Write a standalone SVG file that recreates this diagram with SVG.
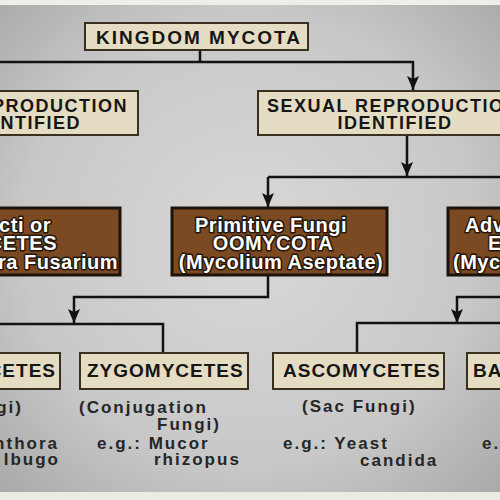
<svg xmlns="http://www.w3.org/2000/svg" width="500" height="500" viewBox="0 0 500 500">
<defs>
<radialGradient id="bg" cx="50%" cy="48%" r="75%">
<stop offset="0" stop-color="#d8d8d8"/>
<stop offset="0.6" stop-color="#c8c8c8"/>
<stop offset="1" stop-color="#a4a4a4"/>
</radialGradient>
<marker id="arr" markerUnits="userSpaceOnUse" markerWidth="14" markerHeight="12" refX="14" refY="6" orient="auto" viewBox="0 0 14 12">
<path d="M0,0 L14,6 L0,12 L3,6 Z" fill="#111"/>
</marker>
<style>
.tan{fill:#e5ddc3;stroke:#3a3020;stroke-width:2}
.brown{fill:#7c4a22;stroke:#1c130b;stroke-width:3}
.tt{font-family:"Liberation Sans",Arial,sans-serif;font-weight:bold;fill:#161616;letter-spacing:1.5px}
.bt{font-family:"Liberation Sans",Arial,sans-serif;font-weight:bold;font-size:20px;fill:#fff;stroke:#24160c;stroke-width:3;paint-order:stroke;stroke-linejoin:round;letter-spacing:0.5px}
.lt{font-family:"Liberation Sans",Arial,sans-serif;font-weight:bold;font-size:17px;fill:#262626;letter-spacing:2px}
.ln{fill:none;stroke:#121212;stroke-width:2.5}
</style>
</defs>
<rect width="500" height="500" fill="url(#bg)"/>
<rect y="0" width="500" height="5" fill="#eeeeea"/>
<rect y="492" width="500" height="8" fill="#ebebe5"/>

<g id="connectors">
<path class="ln" d="M200,50 V62"/>
<path class="ln" d="M0,62 H413 V90" marker-end="url(#arr)"/>
<path class="ln" d="M407,135 V176" marker-end="url(#arr)"/>
<path class="ln" d="M268,177 H500"/>
<path class="ln" d="M268,177 V207" marker-end="url(#arr)"/>
<path class="ln" d="M268,275 V297 H74 V323" marker-end="url(#arr)"/>
<path class="ln" d="M0,324 H163 V353"/>
<path class="ln" d="M500,297 H457 V323" marker-end="url(#arr)"/>
<path class="ln" d="M357,353 V323 H500"/>
</g>

<g id="kingdom">
<rect class="tan" x="85" y="23" width="223" height="27"/>
<text class="tt" x="199" y="44" font-size="19" text-anchor="middle" style="letter-spacing:2px">KINGDOM MYCOTA</text>
</g>

<g id="no-sexual">
<rect class="tan" x="-10" y="91" width="148" height="44"/>
<text class="tt" x="128" y="112" font-size="18" text-anchor="end">PRODUCTION</text>
<text class="tt" x="81" y="129" font-size="18" text-anchor="end">NTIFIED</text>
</g>

<g id="sexual">
<rect class="tan" x="258" y="91" width="260" height="44"/>
<text class="tt" x="393" y="112" font-size="18" text-anchor="middle">SEXUAL REPRODUCTION</text>
<text class="tt" x="395" y="129" font-size="18" text-anchor="middle">IDENTIFIED</text>
</g>

<g id="imperfecti">
<rect class="brown" x="-10" y="208" width="130" height="67"/>
<text class="bt" x="51" y="232" text-anchor="end">cti or</text>
<text class="bt" x="57" y="250" text-anchor="end">CETES</text>
<text class="bt" x="118" y="269" text-anchor="end">ra Fusarium</text>
</g>

<g id="oomycota">
<rect class="brown" x="172" y="208" width="215" height="67"/>
<text class="bt" x="271" y="232" text-anchor="middle">Primitive Fungi</text>
<text class="bt" x="273" y="250" text-anchor="middle">OOMYCOTA</text>
<text class="bt" x="281" y="269" text-anchor="middle">(Mycolium Aseptate)</text>
</g>

<g id="eumycota">
<rect class="brown" x="448" y="208" width="70" height="67"/>
<text class="bt" x="465" y="232">Adv</text>
<text class="bt" x="488" y="250">E</text>
<text class="bt" x="453" y="269">(Myc</text>
</g>

<g id="oomycetes">
<rect class="tan" x="-10" y="353" width="70" height="36"/>
<text class="tt" x="56" y="377" font-size="19" text-anchor="end" style="letter-spacing:1px">CETES</text>
<text class="lt" x="23" y="413" text-anchor="end">gi)</text>
<text class="lt" x="59" y="449" text-anchor="end">nthora</text>
<text class="lt" x="60" y="465" text-anchor="end">lbugo</text>
</g>

<g id="zygomycetes">
<rect class="tan" x="80" y="353" width="168" height="36"/>
<text class="tt" x="87" y="377" font-size="19" style="letter-spacing:1px">ZYGOMYCETES</text>
<text class="lt" x="79" y="413">(Conjugation</text>
<text class="lt" x="157" y="430">Fungi)</text>
<text class="lt" x="97" y="449">e.g.: Mucor</text>
<text class="lt" x="154" y="465">rhizopus</text>
</g>

<g id="ascomycetes">
<rect class="tan" x="273" y="353" width="171" height="36"/>
<text class="tt" x="283" y="377" font-size="19" style="letter-spacing:1px">ASCOMYCETES</text>
<text class="lt" x="302" y="412">(Sac Fungi)</text>
<text class="lt" x="283" y="449">e.g.: Yeast</text>
<text class="lt" x="360" y="466">candida</text>
</g>

<g id="basidiomycetes">
<rect class="tan" x="467" y="353" width="50" height="36"/>
<text class="tt" x="473" y="377" font-size="19" style="letter-spacing:1px">BA</text>
<text class="lt" x="482" y="449">e.</text>
</g>
</svg>
